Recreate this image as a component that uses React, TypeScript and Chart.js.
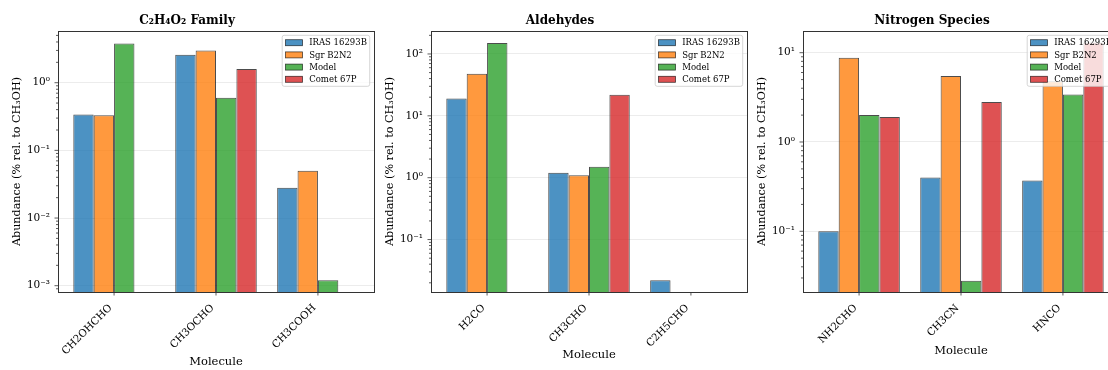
import React, { useEffect, useRef } from 'react';
import { Chart, registerables } from 'chart.js';

Chart.register(...registerables);

// ---------- data ----------
const seriesNames = ['IRAS 16293B', 'Sgr B2N2', 'Model', 'Comet 67P'];
const seriesColors = [
  'rgba(31,119,180,0.8)',
  'rgba(255,127,14,0.8)',
  'rgba(44,160,44,0.8)',
  'rgba(214,39,40,0.8)',
];

const c2h4o2Title = 'C₂H₄O₂ Family';
const c2h4o2Molecules = ['CH2OHCHO', 'CH3OCHO', 'CH3COOH'];
const c2h4o2Iras = [0.34, 2.6, 0.028];
const c2h4o2Sgr = [0.33, 3.0, 0.05];
const c2h4o2Model = [3.8, 0.6, 0.0012];
const c2h4o2Comet = [null, 1.6, null];
const c2h4o2YRange = [8.07e-4, 5.81];

const aldehydeTitle = 'Aldehydes';
const aldehydeMolecules = ['H2CO', 'CH3CHO', 'C2H5CHO'];
const aldehydeIras = [19, 1.2, 0.022];
const aldehydeSgr = [48, 1.1, null];
const aldehydeModel = [150, 1.5, null];
const aldehydeComet = [null, 22, null];
const aldehydeYRange = [0.0142, 235];

const nitrogenTitle = 'Nitrogen Species';
const nitrogenMolecules = ['NH2CHO', 'CH3CN', 'HNCO'];
const nitrogenIras = [0.1, 0.4, 0.37];
const nitrogenSgr = [8.8, 5.5, 4.8];
const nitrogenModel = [2.0, 0.028, 3.4];
const nitrogenComet = [1.9, 2.8, 13];
const nitrogenYRange = [0.0209, 17.5];

const xAxisTitle = 'Molecule';
const yAxisTitle = 'Abundance (% rel. to CH₃OH)';

// ---------- helpers ----------
const FONT = "'DejaVu Serif', 'Liberation Serif', serif";
const SUP: Record<string, string> = {
  '-': '⁻', '0': '⁰', '1': '¹', '2': '²', '3': '³', '4': '⁴',
  '5': '⁵', '6': '⁶', '7': '⁷', '8': '⁸', '9': '⁹',
};
const isPow10 = (v: number) => {
  if (!(v > 0)) return false;
  const e = Math.log10(v);
  return Math.abs(e - Math.round(e)) < 1e-6;
};
const isNiceLogTick = (v: number) => {
  if (!(v > 0)) return false;
  const e = Math.floor(Math.log10(v) + 1e-9);
  const m = v / Math.pow(10, e);
  const r = Math.round(m);
  return Math.abs(m - r) < 1e-6 && r >= 1 && r <= 9;
};
const powLabel = (v: number) => {
  const e = Math.round(Math.log10(v));
  return '10' + String(e).split('').map((c) => SUP[c] || c).join('');
};

const CANVAS_W = 380;
const CANVAS_H = 370;
const Y_AXIS_W = 58;
const X_AXIS_H = 78;
const BAR_EDGE = 'rgba(0,0,0,0.7)';

const framePlugin = {
  id: 'mplFrame',
  afterDatasetsDraw(chart: any) {
    const { ctx, chartArea: a, scales } = chart;
    ctx.save();
    // tick marks
    ctx.strokeStyle = '#333';
    ctx.lineWidth = 0.8;
    const ys = scales.y;
    ys.ticks.forEach((t: any) => {
      const py = ys.getPixelForValue(t.value);
      if (py < a.top - 0.5 || py > a.bottom + 0.5) return;
      const len = isPow10(t.value) ? 3.5 : 2;
      ctx.beginPath();
      ctx.moveTo(a.left - len, py);
      ctx.lineTo(a.left, py);
      ctx.stroke();
    });
    const xs = scales.x;
    xs.ticks.forEach((t: any) => {
      const px = xs.getPixelForValue(t.value);
      ctx.beginPath();
      ctx.moveTo(px, a.bottom);
      ctx.lineTo(px, a.bottom + 3.5);
      ctx.stroke();
    });

    // legend (upper right, inside axes)
    const fs = 8.5;
    const bw = 87.5;
    const bh = 51;
    const bx = a.right - 4.3 - bw;
    const by = a.top + 4.3;
    ctx.beginPath();
    const r = 2;
    ctx.moveTo(bx + r, by);
    ctx.lineTo(bx + bw - r, by);
    ctx.quadraticCurveTo(bx + bw, by, bx + bw, by + r);
    ctx.lineTo(bx + bw, by + bh - r);
    ctx.quadraticCurveTo(bx + bw, by + bh, bx + bw - r, by + bh);
    ctx.lineTo(bx + r, by + bh);
    ctx.quadraticCurveTo(bx, by + bh, bx, by + bh - r);
    ctx.lineTo(bx, by + r);
    ctx.quadraticCurveTo(bx, by, bx + r, by);
    ctx.closePath();
    ctx.fillStyle = 'rgba(255,255,255,0.8)';
    ctx.fill();
    ctx.strokeStyle = 'rgba(204,204,204,0.8)';
    ctx.lineWidth = 1;
    ctx.stroke();
    ctx.font = `${fs}px ${FONT}`;
    ctx.textBaseline = 'middle';
    ctx.textAlign = 'left';
    chart.data.datasets.forEach((ds: any, i: number) => {
      const cy = by + 7.4 + i * 12.2;
      ctx.fillStyle = ds.backgroundColor;
      ctx.fillRect(bx + 3.3, cy - 3, 17, 6);
      ctx.strokeStyle = BAR_EDGE;
      ctx.lineWidth = 0.8;
      ctx.strokeRect(bx + 3.3, cy - 3, 17, 6);
      ctx.fillStyle = '#000';
      ctx.fillText(ds.label, bx + 27, cy + 0.5);
    });

    // frame (spines)
    ctx.strokeStyle = '#333';
    ctx.lineWidth = 1;
    ctx.strokeRect(Math.round(a.left) + 0.5, Math.round(a.top) + 0.5,
      Math.round(a.right) - Math.round(a.left), Math.round(a.bottom) - Math.round(a.top));
    ctx.restore();
  },
};

type PanelProps = {
  left: number;
  title: string;
  molecules: string[];
  series: (number | null)[][];
  yRange: number[];
  xTitlePad: number;
};

function Panel({ left, title, molecules, series, yRange, xTitlePad }: PanelProps) {
  const ref = useRef<HTMLCanvasElement | null>(null);
  useEffect(() => {
    if (!ref.current) return;
    const n = molecules.length;
    const chart = new Chart(ref.current, {
      type: 'bar',
      data: {
        datasets: series.map((vals, i) => ({
          label: seriesNames[i],
          data: vals.map((v, j) => ({ x: j, y: v })),
          backgroundColor: seriesColors[i],
          borderColor: BAR_EDGE,
          borderWidth: 1,
          borderSkipped: 'start',
          categoryPercentage: 0.8,
          barPercentage: 1.0,
        })),
      } as any,
      options: {
        responsive: false,
        animation: false,
        events: [],
        layout: { padding: { left: 0, right: 6, top: 0, bottom: 0 } },
        plugins: {
          legend: { display: false },
          tooltip: { enabled: false },
          title: {
            display: true,
            text: title,
            color: '#000',
            font: { family: FONT, size: 12, weight: 'bold' },
            padding: { top: 13.8, bottom: 2.8 },
          },
        },
        scales: {
          x: {
            type: 'linear',
            min: -0.55,
            max: n - 1 + 0.55,
            offset: false,
            grid: { display: false },
            border: { display: false },
            ticks: {
              stepSize: 1,
              includeBounds: false,
              autoSkip: false,
              maxRotation: 45,
              minRotation: 45,
              padding: 2,
              labelOffset: -3.5,
              color: '#000',
              font: { family: FONT, size: 10.3 },
              callback: (v: any) => (Number.isInteger(v) && molecules[v] !== undefined ? molecules[v] : ''),
            },
            title: {
              display: true,
              text: xAxisTitle,
              color: '#000',
              font: { family: FONT, size: 11.5 },
              padding: { top: 0, bottom: xTitlePad },
            },
            afterFit: (s: any) => {
              s.height = X_AXIS_H;
            },
          },
          y: {
            type: 'logarithmic',
            min: yRange[0],
            max: yRange[1],
            grid: {
              drawTicks: false,
              lineWidth: 0.8,
              color: (ctx: any) => (ctx.tick && isPow10(ctx.tick.value) ? 'rgba(176,176,176,0.3)' : 'rgba(0,0,0,0)'),
            },
            border: { display: false },
            afterBuildTicks: (s: any) => {
              s.ticks = s.ticks.filter((t: any) => isNiceLogTick(t.value));
            },
            ticks: {
              autoSkip: false,
              padding: 8,
              color: '#000',
              font: { family: FONT, size: 10.5 },
              callback: (v: any) => (isPow10(Number(v)) ? powLabel(Number(v)) : ''),
            },
            title: {
              display: true,
              text: yAxisTitle,
              color: '#000',
              font: { family: FONT, size: 11.2 },
              padding: { top: 10.3, bottom: 0 },
            },
            afterFit: (s: any) => {
              s.width = Y_AXIS_W;
            },
          },
        },
      } as any,
      plugins: [framePlugin],
    });
    return () => chart.destroy();
  }, []);
  return (
    <canvas
      ref={ref}
      width={CANVAS_W}
      height={CANVAS_H}
      style={{ position: 'absolute', left, top: 0, width: CANVAS_W, height: CANVAS_H }}
    />
  );
}

export default function App() {
  return (
    <div
      style={{
        position: 'fixed',
        left: 0,
        top: 0,
        width: 1108,
        height: 370,
        overflow: 'hidden',
        background: '#fff',
      }}
    >
      <Panel
        left={0}
        title={c2h4o2Title}
        molecules={c2h4o2Molecules}
        series={[c2h4o2Iras, c2h4o2Sgr, c2h4o2Model, c2h4o2Comet]}
        yRange={c2h4o2YRange}
        xTitlePad={1.1}
      />
      <Panel
        left={373}
        title={aldehydeTitle}
        molecules={aldehydeMolecules}
        series={[aldehydeIras, aldehydeSgr, aldehydeModel, aldehydeComet]}
        yRange={aldehydeYRange}
        xTitlePad={8.1}
      />
      <Panel
        left={745}
        title={nitrogenTitle}
        molecules={nitrogenMolecules}
        series={[nitrogenIras, nitrogenSgr, nitrogenModel, nitrogenComet]}
        yRange={nitrogenYRange}
        xTitlePad={12.1}
      />
    </div>
  );
}
